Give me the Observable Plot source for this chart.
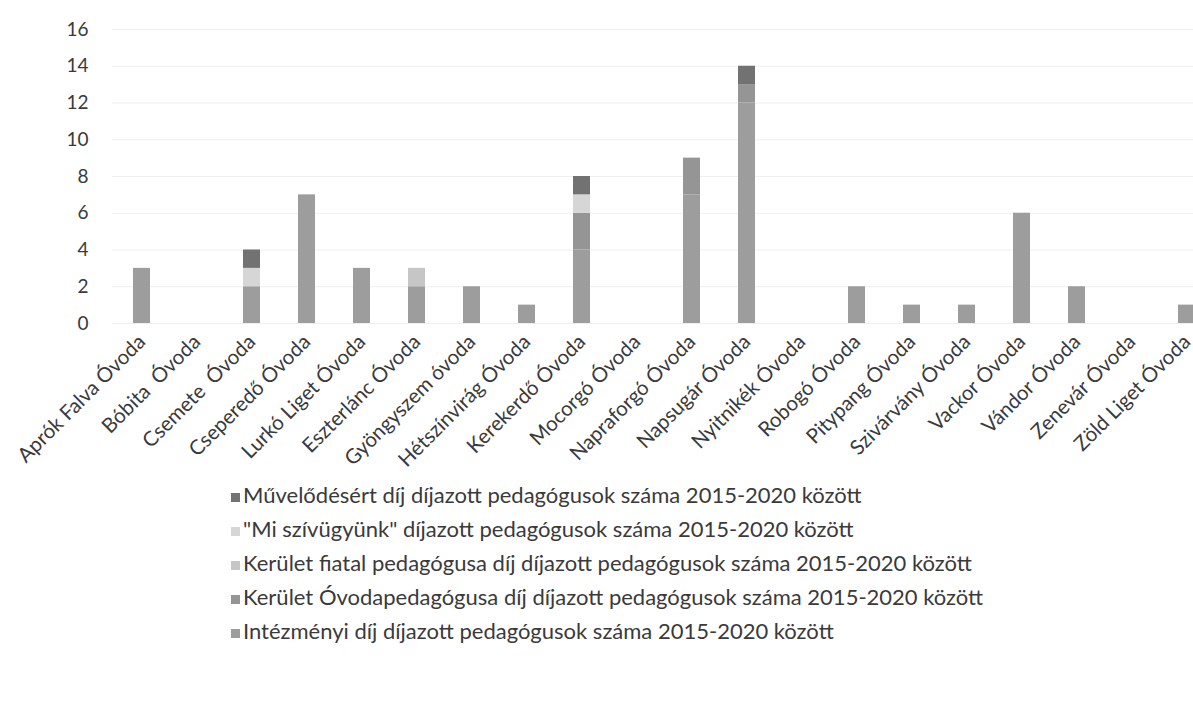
<!DOCTYPE html>
<html>
<head>
<meta charset="utf-8">
<script src="https://cdn.jsdelivr.net/npm/d3@7"></script>
<script src="https://cdn.jsdelivr.net/npm/@observablehq/plot@0.6"></script>
<style>
  html, body { margin: 0; padding: 0; background: #fff; overflow: hidden; }
  #chart svg { display: block; font-family: Lato, "Open Sans", sans-serif; }
  #legend { padding-left: 231px; padding-top: 3px; font-family: Lato, "Open Sans", sans-serif; font-size: 22px; color: #3a3a3a; }
  .item { height: 34px; line-height: 34px; white-space: nowrap; }
  .sw { display: inline-block; width: 9px; height: 9px; margin-right: 3px; vertical-align: 1px; }
</style>
</head>
<body>
<div id="chart"></div>
<div id="legend"></div>
<script>
const categories = [
  "Aprók Falva Óvoda", "Bóbita  Óvoda", "Csemete  Óvoda", "Cseperedő Óvoda", "Lurkó Liget Óvoda",
  "Eszterlánc Óvoda", "Gyöngyszem óvoda", "Hétszínvirág Óvoda", "Kerekerdő Óvoda", "Mocorgó Óvoda",
  "Napraforgó Óvoda", "Napsugár Óvoda", "Nyitnikék Óvoda", "Robogó Óvoda", "Pitypang Óvoda",
  "Szivárvány Óvoda", "Vackor Óvoda", "Vándor Óvoda", "Zenevár Óvoda", "Zöld Liget Óvoda"
];
// legend order (top to bottom)
const seriesNames = [
  "Művelődésért díj díjazott pedagógusok száma 2015-2020 között",
  "\"Mi szívügyünk\" díjazott pedagógusok száma 2015-2020 között",
  "Kerület fiatal pedagógusa díj díjazott pedagógusok száma 2015-2020 között",
  "Kerület Óvodapedagógusa díj díjazott pedagógusok száma 2015-2020 között",
  "Intézményi díj díjazott pedagógusok száma 2015-2020 között"
];
const seriesColors = ["#727272", "#d6d6d6", "#c6c6c6", "#959595", "#9d9d9d"];

const muvelodesert   = [0,0,1,0,0, 0,0,0,1,0, 0,1,0,0,0, 0,0,0,0,0];
const miSzivugyunk   = [0,0,1,0,0, 0,0,0,1,0, 0,0,0,0,0, 0,0,0,0,0];
const keruletFiatal  = [0,0,0,0,0, 1,0,0,0,0, 0,0,0,0,0, 0,0,0,0,0];
const keruletOvodaped= [0,0,0,0,0, 0,0,0,2,0, 2,1,0,0,0, 0,0,0,0,0];
const intezmenyi     = [3,0,2,7,3, 2,2,1,4,0, 7,12,0,2,1, 1,6,2,0,1];
const seriesValues = [muvelodesert, miSzivugyunk, keruletFiatal, keruletOvodaped, intezmenyi];

const yTicks = [0, 2, 4, 6, 8, 10, 12, 14, 16];

const stackOrder = seriesNames.slice().reverse(); // bottom to top
const data = [];
stackOrder.forEach(s => {
  const vals = seriesValues[seriesNames.indexOf(s)];
  categories.forEach((c, i) => data.push({cat: c, series: s, value: vals[i]}));
});

const chart = Plot.plot({
  width: 1193,
  height: 475,
  marginLeft: 112,
  marginRight: -23,
  marginTop: 29,
  marginBottom: 152,
  style: {fontSize: "19px", color: "#3a3a3a", fontFamily: "Lato, 'Open Sans', sans-serif"},
  x: {domain: categories, paddingInner: 0.69, paddingOuter: 0.345, label: null},
  y: {domain: [0, 16], ticks: yTicks, label: null},
  color: {domain: seriesNames, range: seriesColors},
  marks: [
    Plot.gridY(yTicks, {stroke: "#efefef", strokeOpacity: 1}),
    Plot.axisY(yTicks, {tickSize: 0, tickPadding: 24, label: null, fontSize: 19}),
    Plot.axisX({tickSize: 0, tickRotate: -45, tickPadding: 12, dx: 0, dy: 3, label: null, fontSize: 20.5}),
    Plot.barY(data, Plot.stackY({order: stackOrder}, {x: "cat", y: "value", z: "series", fill: "series", inset: 0}))
  ]
});
document.getElementById("chart").appendChild(chart);

const legend = document.getElementById("legend");
seriesNames.forEach((s, i) => {
  const d = document.createElement("div");
  d.className = "item";
  const sw = document.createElement("span");
  sw.className = "sw";
  sw.style.background = seriesColors[i];
  d.appendChild(sw);
  d.appendChild(document.createTextNode(s));
  legend.appendChild(d);
});
</script>
</body>
</html>
